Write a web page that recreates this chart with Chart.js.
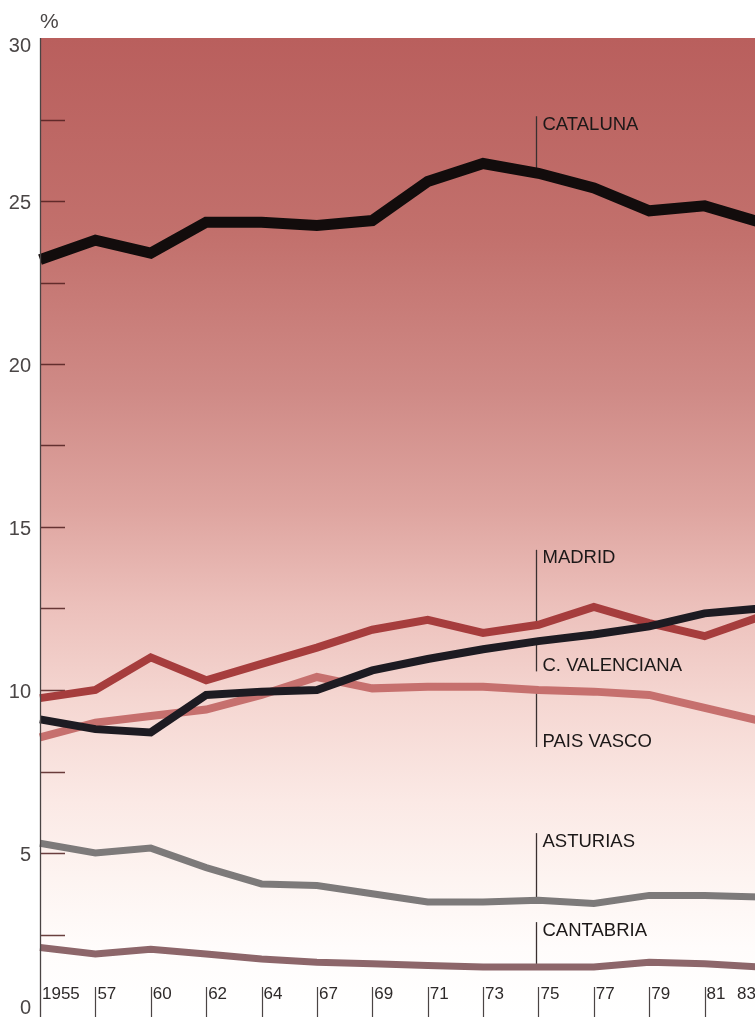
<!DOCTYPE html>
<html lang="es">
<head>
<meta charset="utf-8">
<title>Participación regional (%)</title>
<script src="https://cdn.jsdelivr.net/npm/chart.js@4/dist/chart.umd.min.js"></script>
<style>
  html, body { margin: 0; padding: 0; background: #ffffff; overflow: hidden; }
  #wrap { width: 755px; height: 1017px; overflow: hidden; }
  canvas { display: block; }
</style>
</head>
<body>
<div id="wrap"><canvas id="c" width="760" height="1017"></canvas></div>
<script>
// Years on the horizontal axis (evenly spaced categories)
const years = ['1955', '57', '60', '62', '64', '67', '69', '71', '73', '75', '77', '79', '81', '83'];

// Share of each region, in %
const cataluna   = [23.2, 23.8, 23.4, 24.35, 24.35, 24.25, 24.4, 25.6, 26.15, 25.85, 25.4, 24.7, 24.85, 24.35];
const valenciana = [9.1, 8.8, 8.7, 9.85, 9.95, 10.0, 10.6, 10.95, 11.25, 11.5, 11.7, 11.95, 12.35, 12.5];
const madrid     = [9.75, 10.0, 11.0, 10.3, 10.8, 11.3, 11.85, 12.15, 11.75, 12.0, 12.55, 12.05, 11.65, 12.25];
const paisVasco  = [8.55, 9.0, 9.2, 9.4, 9.85, 10.4, 10.05, 10.1, 10.1, 10.0, 9.95, 9.85, 9.45, 9.05];
const asturias   = [5.3, 5.0, 5.15, 4.55, 4.05, 4.0, 3.75, 3.5, 3.5, 3.55, 3.45, 3.7, 3.7, 3.65];
const cantabria  = [2.1, 1.9, 2.05, 1.9, 1.75, 1.65, 1.6, 1.55, 1.5, 1.5, 1.5, 1.65, 1.6, 1.5];

// Vertical scale
const yMin = 0, yMax = 30, yStep = 2.5, yLabelEvery = 5;

// Region names written beside the curves
const regionNames = ['CATALUNA', 'C. VALENCIANA', 'MADRID', 'PAIS VASCO', 'ASTURIAS', 'CANTABRIA'];

// Where each name sits: text cap-top (in % units) and whether the leader hangs
// down from the text to the curve ('down') or rises from the curve past the text ('up')
const nameLayout = [
  { top: 27.6, leader: 'down' },
  { top: 11.0, leader: 'up' },
  { top: 14.3, leader: 'down' },
  { top: 8.68, leader: 'up' },
  { top: 5.61, leader: 'down' },
  { top: 2.88, leader: 'down' }
];
const nameAtIndex = 9; // leaders stand at 1975

const FONT = '"Liberation Sans", Arial, Helvetica, sans-serif';

const decor = {
  id: 'decor',
  beforeDraw(chart) {
    const { ctx, chartArea: a } = chart;
    const g = ctx.createLinearGradient(0, a.top, 0, a.bottom);
    g.addColorStop(0.00, '#b95f5d');
    g.addColorStop(0.20, '#c2706c');
    g.addColorStop(0.36, '#cf8a86');
    g.addColorStop(0.48, '#dea49f');
    g.addColorStop(0.58, '#ecc0bb');
    g.addColorStop(0.68, '#f5d7d2');
    g.addColorStop(0.78, '#fbe9e5');
    g.addColorStop(0.86, '#fdf4f1');
    g.addColorStop(0.93, '#fffcfb');
    g.addColorStop(1.00, '#ffffff');
    ctx.save();
    ctx.fillStyle = g;
    ctx.fillRect(a.left, a.top, a.right - a.left, chart.height - a.top);
    ctx.restore();
  },
  beforeDatasetsDraw(chart) {
    const { ctx, chartArea: a, scales: { y } } = chart;
    ctx.save();
    // short ticks inside the plot every 2.5 %
    ctx.strokeStyle = 'rgba(80,30,30,0.85)';
    ctx.lineWidth = 1.5;
    for (let v = yMin + yStep; v < yMax; v += yStep) {
      const py = Math.round(y.getPixelForValue(v)) + 0.5;
      ctx.beginPath();
      ctx.moveTo(a.left, py);
      ctx.lineTo(a.left + 25, py);
      ctx.stroke();
    }
    // leaders from names to curves
    ctx.strokeStyle = '#3a3030';
    ctx.lineWidth = 1.3;
    chart.data.datasets.forEach((ds, i) => {
      const meta = chart.getDatasetMeta(i);
      const pt = meta.data[nameAtIndex];
      const lx = Math.round(pt.x) - 1.5;
      const topPx = y.getPixelForValue(nameLayout[i].top);
      ctx.beginPath();
      if (nameLayout[i].leader === 'down') {
        ctx.moveTo(lx, topPx);
        ctx.lineTo(lx, pt.y);
      } else {
        ctx.moveTo(lx, pt.y);
        ctx.lineTo(lx, topPx + 14);
      }
      ctx.stroke();
    });
    ctx.restore();
  },
  afterDatasetsDraw(chart) {
    const { ctx, chartArea: a, scales: { x, y } } = chart;
    ctx.save();
    // vertical axis line
    ctx.strokeStyle = '#4a4444';
    ctx.lineWidth = 1.3;
    ctx.beginPath();
    ctx.moveTo(a.left + 0.5, a.top);
    ctx.lineTo(a.left + 0.5, chart.height);
    ctx.stroke();

    // vertical tick labels
    ctx.fillStyle = '#4a4646';
    ctx.font = '20px ' + FONT;
    ctx.textAlign = 'right';
    ctx.textBaseline = 'middle';
    for (let v = yMin; v <= yMax; v += yLabelEvery) {
      let py = y.getPixelForValue(v) + 2;
      py = Math.min(Math.max(py, a.top + 8), a.bottom - 8);
      ctx.fillText(String(v), 31, py);
    }
    // unit
    ctx.textAlign = 'left';
    ctx.textBaseline = 'alphabetic';
    ctx.font = '21px ' + FONT;
    ctx.fillText('%', 40, 28);

    // year labels with their small bars, sitting inside the plot
    ctx.font = '17px ' + FONT;
    ctx.fillStyle = '#2e2a2a';
    ctx.strokeStyle = '#4a4444';
    ctx.lineWidth = 1.2;
    const last = years.length - 1;
    years.forEach((lab, i) => {
      const px = x.getPixelForValue(i);
      if (i === last) {
        ctx.textAlign = 'right';
        ctx.fillText(lab, px - 4, 999);
        return;
      }
      if (i > 0) {
        const tx = Math.round(px) + 0.5;
        ctx.beginPath();
        ctx.moveTo(tx, 987);
        ctx.lineTo(tx, chart.height);
        ctx.stroke();
      }
      ctx.textAlign = 'left';
      ctx.fillText(lab, px + 2, 999);
    });

    // region names
    ctx.font = '18.5px ' + FONT;
    ctx.fillStyle = '#1c1818';
    ctx.textAlign = 'left';
    chart.data.datasets.forEach((ds, i) => {
      const pt = chart.getDatasetMeta(i).data[nameAtIndex];
      const lx = Math.round(pt.x) - 1.5;
      const topPx = y.getPixelForValue(nameLayout[i].top);
      ctx.fillText(ds.label, lx + 6, topPx + 13.5);
    });
    ctx.restore();
  }
};

const seriesValues = [cataluna, valenciana, madrid, paisVasco, asturias, cantabria];
const seriesColors = ['#120c0c', '#1d1b22', '#a63d3d', '#c6706e', '#7d7a7a', '#8d666a'];
const seriesWidths = [11, 8, 8, 8, 7, 7];

new Chart(document.getElementById('c'), {
  type: 'line',
  data: {
    labels: years,
    datasets: seriesValues.map((vals, i) => ({
      label: regionNames[i],
      data: vals,
      borderColor: seriesColors[i],
      borderWidth: seriesWidths[i],
      borderJoinStyle: 'miter',
      borderCapStyle: 'butt',
      pointRadius: 0,
      tension: 0,
      fill: false
    }))
  },
  options: {
    responsive: false,
    animation: false,
    devicePixelRatio: 1,
    layout: { padding: { left: 40, top: 38, right: 0, bottom: 1 } },
    plugins: { legend: { display: false }, tooltip: { enabled: false } },
    scales: {
      x: { type: 'category', display: false, offset: false },
      y: { type: 'linear', display: false, min: yMin, max: yMax }
    }
  },
  plugins: [decor]
});
</script>
</body>
</html>
